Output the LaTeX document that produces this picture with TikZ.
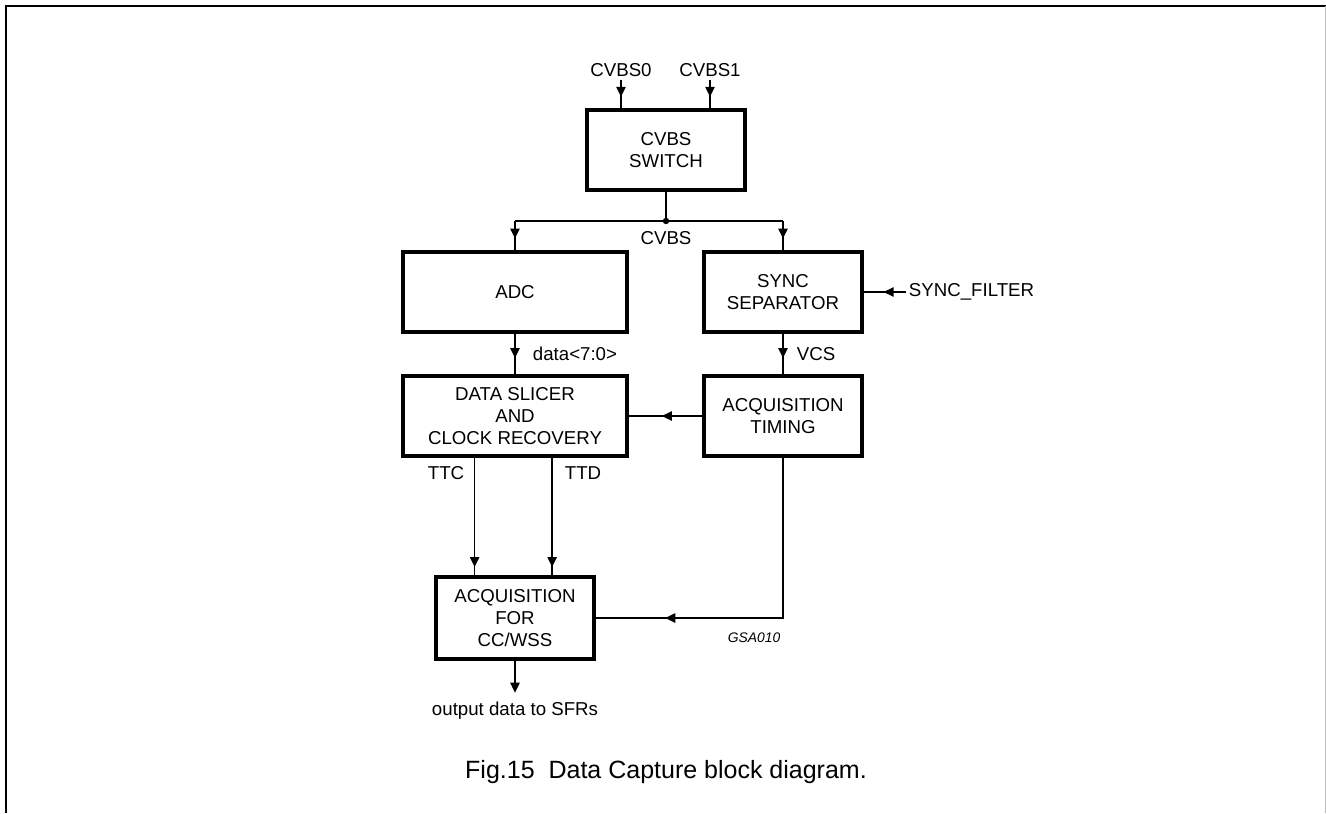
\documentclass[tikz,border=0pt]{standalone}
\usepackage{fontspec}
\setmainfont{Liberation Sans}
\usetikzlibrary{arrows.meta,decorations.markings,calc}

\begin{document}
\begin{tikzpicture}[x=0.75pt, y=-0.75pt,
    block/.style={rectangle, draw=black, line width=2.6pt, fill=white,
        minimum width=118.5pt, minimum height=60pt, inner sep=2pt,
        align=center, font=\fontsize{14}{16.5}\selectfont},
    wideblock/.style={block, minimum width=168pt},
    sig/.style={inner sep=2pt, font=\fontsize{14}{16.5}\selectfont},
    link/.style={line width=1.1pt},
    flow/.style={link, postaction={decorate}, decoration={markings,
        mark=at position #1 with {\arrow{Triangle[length=7.5pt, width=7pt]}}}}
]
    \useasboundingbox (0,0) rectangle (1326,813);
    % frame
    \draw[line width=1.5pt] (6,813) -- (6,6) -- (1326,6);
    \draw[black!25, line width=0.75pt] (1325,6) -- (1325,813);

    % blocks
    \node[block] (sw) at (666,150) {CVBS\\SWITCH};
    \node[wideblock] (adc) at (515,292) {ADC};
    \node[block] (sync) at (783,292) {SYNC\\SEPARATOR};
    \node[wideblock] (slicer) at (515,416) {DATA SLICER\\AND\\CLOCK RECOVERY};
    \node[block] (timing) at (783,416) {ACQUISITION\\TIMING};
    \node[block, minimum height=61.5pt] (cc) at (515,618) {ACQUISITION\\FOR\\CC/WSS};

    % signal names
    \node[sig] (cvbs0) at (621,70) {CVBS0};
    \node[sig] (cvbs1) at (710,70) {CVBS1};
    \coordinate (split) at (666,221);
    \node[sig] (cvbs) at (666,238) {CVBS};
    \node[sig, anchor=west] (data) at (530,354) {data<7:0>};
    \node[sig, anchor=west] (vcs) at (794,354) {VCS};
    \node[sig, anchor=west] (filter) at (906,292) {SYNC\_FILTER};
    \node[sig] (ttc) at (446,473) {TTC};
    \node[sig] (ttd) at (583,473) {TTD};
    \node[sig] (out) at (515,711) {output data to SFRs};
    \node[font=\fontsize{10.4}{12}\selectfont\itshape] (code) at (754,638) {GSA010};
    \node[font=\fontsize{18.75}{22}\selectfont] (caption) at (666,772)
        {Fig.15\ \ Data Capture block diagram.};

    \coordinate (c1) at ($(cc.north west)!0.25!(cc.north east)$);
    \coordinate (c2) at ($(cc.north west)!0.73!(cc.north east)$);

    % connections
    \draw[flow=0.6] (cvbs0.south) -- (cvbs0.south |- sw.north);
    \draw[flow=0.6] (cvbs1.south) -- (cvbs1.south |- sw.north);
    \draw[link] (sw.south) -- (split);
    \fill (split) circle[radius=2.4pt];
    \draw[link] (adc.north |- split) -- (sync.north |- split);
    \draw[flow=0.6] (adc.north |- split) -- (adc.north);
    \draw[flow=0.6] (sync.north |- split) -- (sync.north);
    \draw[flow=0.53] (filter.west) -- (sync.east);
    \draw[flow=0.6] (adc.south) -- (slicer.north);
    \draw[flow=0.6] (sync.south) -- (timing.north);
    \draw[flow=0.55] (timing.west) -- (slicer.east);
    \draw[flow=0.93] (c1 |- slicer.south) -- (c1);
    \draw[flow=0.93] (c2 |- slicer.south) -- (c2);
    \draw[flow=0.8] (timing.south) |- (cc.east);
    \draw[link, -{Triangle[length=7.5pt, width=7pt]}, shorten >=5pt] (cc.south) -- (out.north);
\end{tikzpicture}
\end{document}
